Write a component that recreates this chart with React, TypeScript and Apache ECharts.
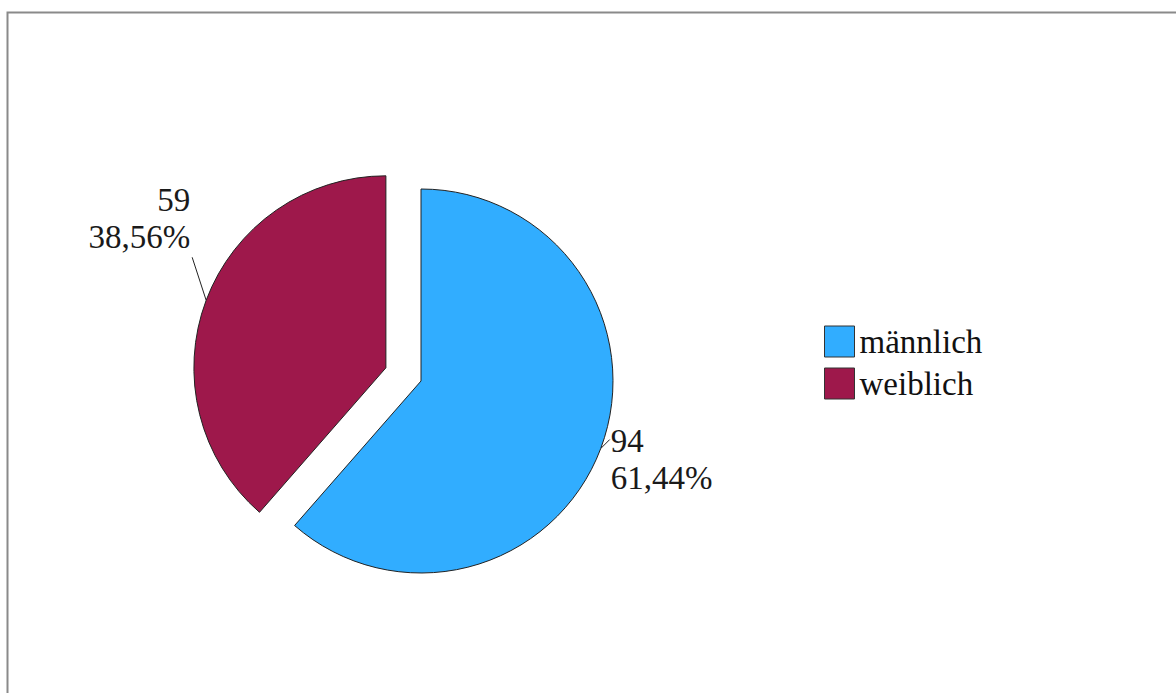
import React, { useEffect, useRef } from "react";
import * as echarts from "echarts";

const categories = ["männlich", "weiblich"];
const counts = [94, 59];
const colors = ["#31adff", "#9e184b"];

const FONT = "Liberation Serif";

export default function App() {
  const ref = useRef<HTMLDivElement>(null);

  useEffect(() => {
    if (!ref.current) return;
    const chart = echarts.init(ref.current, null, { renderer: "svg" });

    const total = counts.reduce((a, b) => a + b, 0);
    const center: [number, number] = [421, 381];
    const radius = 192;
    const explode = 37.5;
    // mid-angle of the exploded (second) slice, clockwise from 12 o'clock
    const startFrac = counts[0] / total;
    const midFrac = startFrac + counts[1] / total / 2;
    const ang = midFrac * Math.PI * 2;
    const exCenter: [number, number] = [
      center[0] + Math.sin(ang) * explode,
      center[1] - Math.cos(ang) * explode,
    ];

    const fmt = (p: any) =>
      `${p.value}\n${p.percent.toFixed(2).replace(".", ",")}%`;

    const labelBase = {
      show: true,
      position: "outside",
      formatter: fmt,
      fontFamily: FONT,
      fontSize: 33,
      lineHeight: 37,
      color: "#1a1a1a",
    };

    const placeholder = (name: string, value: number) => ({
      name,
      value,
      itemStyle: { color: "rgba(0,0,0,0)", borderWidth: 0 },
      label: { show: false },
      labelLine: { show: false },
      emphasis: { disabled: true },
      tooltip: { show: false },
    });

    const option: any = {
      animation: false,
      backgroundColor: "#ffffff",
      textStyle: { fontFamily: FONT },
      graphic: [
        {
          type: "rect",
          shape: { x: 7.5, y: 12.5, width: 1250, height: 800 },
          style: { fill: "none", stroke: "#8a8a8a", lineWidth: 2 },
          silent: true,
        },
      ],
      legend: {
        orient: "vertical",
        left: 819,
        top: 320,
        itemWidth: 30,
        itemHeight: 31,
        itemGap: 9,
        icon: "rect",
        data: categories,
        itemStyle: { borderColor: "#333", borderWidth: 1 },
        textStyle: {
          fontFamily: FONT,
          fontSize: 33,
          lineHeight: 31,
          color: "#111",
        },
        selectedMode: false,
      },
      series: [
        {
          type: "pie",
          center,
          radius,
          startAngle: 90,
          clockwise: true,
          avoidLabelOverlap: false,
          silent: true,
          itemStyle: { borderColor: "#222", borderWidth: 1 },
          label: labelBase,
          labelLine: { show: true, length: 10, length2: 0, lineStyle: { color: "#222", width: 1 } },
          labelLayout: (params: any) => {
            const pts = params.labelLinePoints;
            if (!pts) return {};
            const s = pts[0];
            const e = [s[0] + 9, s[1] - 9];
            return {
              x: e[0] + 1,
              y: e[1] + 19.5,
              align: "left",
              verticalAlign: "middle",
              labelLinePoints: [s, e],
            };
          },
          data: [
            { name: categories[0], value: counts[0], itemStyle: { color: colors[0] } },
            placeholder("_rest1", counts[1]),
          ],
        },
        {
          type: "pie",
          center: exCenter,
          radius,
          startAngle: 90,
          clockwise: true,
          avoidLabelOverlap: false,
          silent: true,
          itemStyle: { borderColor: "#222", borderWidth: 1 },
          label: labelBase,
          labelLine: { show: true, length: 10, length2: 0, lineStyle: { color: "#222", width: 1 } },
          labelLayout: (params: any) => {
            const pts = params.labelLinePoints;
            if (!pts) return {};
            const s = pts[0];
            const e = [s[0] - 14, s[1] - 43];
            return {
              x: e[0] - 2,
              y: e[1] - 38.5,
              align: "right",
              verticalAlign: "middle",
              labelLinePoints: [s, e],
            };
          },
          data: [
            placeholder("_rest0", counts[0]),
            { name: categories[1], value: counts[1], itemStyle: { color: colors[1] } },
          ],
        },
      ],
    };

    chart.setOption(option);
    return () => chart.dispose();
  }, []);

  return (
    <div
      ref={ref}
      style={{ position: "fixed", left: 0, top: 0, width: 1176, height: 693 }}
    />
  );
}
